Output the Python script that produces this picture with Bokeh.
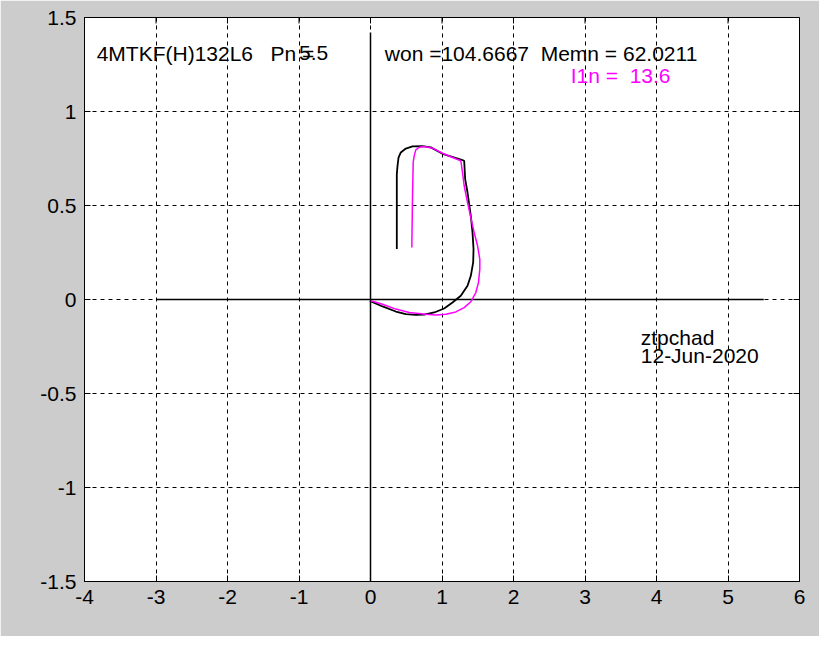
import math
from bokeh.plotting import figure
from bokeh.models import FixedTicker, Label, Range1d
from bokeh.embed import file_html
from bokeh.resources import INLINE

# black curve (M vs w)
m_vals = [-0.009, 0.168, 0.354, 0.494, 0.634, 0.751, 0.891, 1.030, 1.147, 1.263,
          1.357, 1.403, 1.436, 1.441, 1.427, 1.403, 1.380, 1.357, 1.324, 1.310,
          1.277, 1.007, 0.844, 0.727, 0.587, 0.494, 0.424, 0.392, 0.378, 0.368, 0.368]
w_m_vals = [-0.007, -0.037, -0.064, -0.078, -0.082, -0.080, -0.069, -0.048, -0.016, 0.020,
            0.073, 0.126, 0.197, 0.268, 0.356, 0.445, 0.507, 0.569, 0.640, 0.738,
            0.743, 0.775, 0.809, 0.816, 0.814, 0.803, 0.782, 0.755, 0.711, 0.667, 0.268]

# magenta curve (I1 vs w)
i1_vals = [0.005, 0.168, 0.354, 0.541, 0.774, 0.914, 1.054, 1.193, 1.310, 1.403,
           1.473, 1.510, 1.529, 1.529, 1.497, 1.450, 1.403, 1.357, 1.310, 1.287,
           1.263, 1.147, 1.007, 0.867, 0.751, 0.681, 0.634, 0.611, 0.597, 0.587, 0.578]
w_i_vals = [-0.007, -0.025, -0.051, -0.069, -0.078, -0.082, -0.078, -0.066, -0.043, -0.012,
            0.037, 0.090, 0.161, 0.214, 0.286, 0.356, 0.436, 0.516, 0.605, 0.676,
            0.738, 0.755, 0.778, 0.805, 0.814, 0.810, 0.796, 0.764, 0.729, 0.534, 0.277]

# reference axis lines
hline_x = [-3.0, 5.5]
hline_y = [0.0, 0.0]
vline_x = [0.0, 0.0]
vline_y = [-1.5, 1.42]

x_ticks = [-4, -3, -2, -1, 0, 1, 2, 3, 4, 5, 6]
x_tick_labels = ["-4", "-3", "-2", "-1", "0", "1", "2", "3", "4", "5", "6"]
y_ticks = [-1.5, -1, -0.5, 0, 0.5, 1, 1.5]
y_tick_labels = ["-1.5", "-1", "-0.5", "0", "0.5", "1", "1.5"]

X0, X1 = -4, 6
Y0, Y1 = -1.5, 1.5

FONT = "Liberation Sans"
FS = "21px"
NB = "\u00a0"

W, H = 819, 636
ML, MR, MT, MB = 84, 20, 17, 55

p = figure(width=W, height=H, x_range=Range1d(X0, X1), y_range=Range1d(Y0, Y1),
           output_backend="svg", toolbar_location=None,
           min_border_left=ML, min_border_right=MR, min_border_top=MT, min_border_bottom=MB,
           background_fill_color="white", border_fill_color="#cccccc",
           outline_line_color="black", outline_line_width=1)

TICK = 6
for ax, ticks, labels in ((p.xaxis[0], x_ticks, x_tick_labels), (p.yaxis[0], y_ticks, y_tick_labels)):
    ax.ticker = FixedTicker(ticks=ticks)
    ax.major_label_overrides = dict(zip(ticks, labels))
    ax.major_tick_in = TICK
    ax.major_tick_out = 0
    ax.minor_tick_line_color = None
    ax.axis_line_color = "black"
    ax.major_tick_line_color = "black"
    ax.major_label_text_font = FONT
    ax.major_label_text_font_size = FS
    ax.major_label_text_color = "black"
    ax.major_label_standoff = 8

# inward tick marks on the top and right sides (length TICK px converted to data units)
fw = W - ML - MR
fh = H - MT - MB
dy = TICK * (Y1 - Y0) / fh
dx = TICK * (X1 - X0) / fw
p.segment(x0=x_ticks, y0=[Y1] * len(x_ticks), x1=x_ticks, y1=[Y1 - dy] * len(x_ticks),
          line_color="black", line_width=1)
p.segment(x0=[X1] * len(y_ticks), y0=y_ticks, x1=[X1 - dx] * len(y_ticks), y1=y_ticks,
          line_color="black", line_width=1)

p.xgrid.ticker = FixedTicker(ticks=x_ticks)
p.ygrid.ticker = FixedTicker(ticks=y_ticks)
for g in (p.xgrid[0], p.ygrid[0]):
    g.grid_line_color = "black"
    g.grid_line_dash = "4 4"
    g.grid_line_width = 1
    g.grid_line_alpha = 1.0

p.line(hline_x, hline_y, line_color="black", line_width=1.5)
p.line(vline_x, vline_y, line_color="black", line_width=1.5)

p.line(m_vals, w_m_vals, line_color="black", line_width=1.8)
p.line(i1_vals, w_i_vals, line_color="#ff00ff", line_width=1.5)

texts = [
    (-3.83, 1.31, "4MTKF(H)132L6" + NB * 3 + "Pn" + NB + "=", "black"),
    (-1.0, 1.31, "5.5", "black"),
    (0.2, 1.31, "won" + NB + "=104.6667" + NB * 2 + "Memn" + NB + "=" + NB + "62.0211", "black"),
    (2.8, 1.19, "I1n" + NB + "=" + NB * 2 + "13.6", "#ff00ff"),
    (3.78, -0.20, "ztpchad", "black"),
    (3.78, -0.30, "12-Jun-2020", "black"),
]
for tx, ty, t, c in texts:
    p.add_layout(Label(x=tx, y=ty, text=t, text_color=c, text_font=FONT,
                       text_font_size=FS, text_baseline="middle", text_align="left"))

# axis titles
p.add_layout(Label(x=1.0, y=-1.735, text="M,I1", text_font=FONT, text_font_size=FS,
                   text_align="center", text_baseline="middle", text_color="black"))
p.add_layout(Label(x=-4.91, y=0.0, text="w", text_font=FONT, text_font_size=FS,
                   text_align="center", text_baseline="middle", text_color="black",
                   angle=math.pi / 2))

open("out.html", "w").write(file_html(p, INLINE))
